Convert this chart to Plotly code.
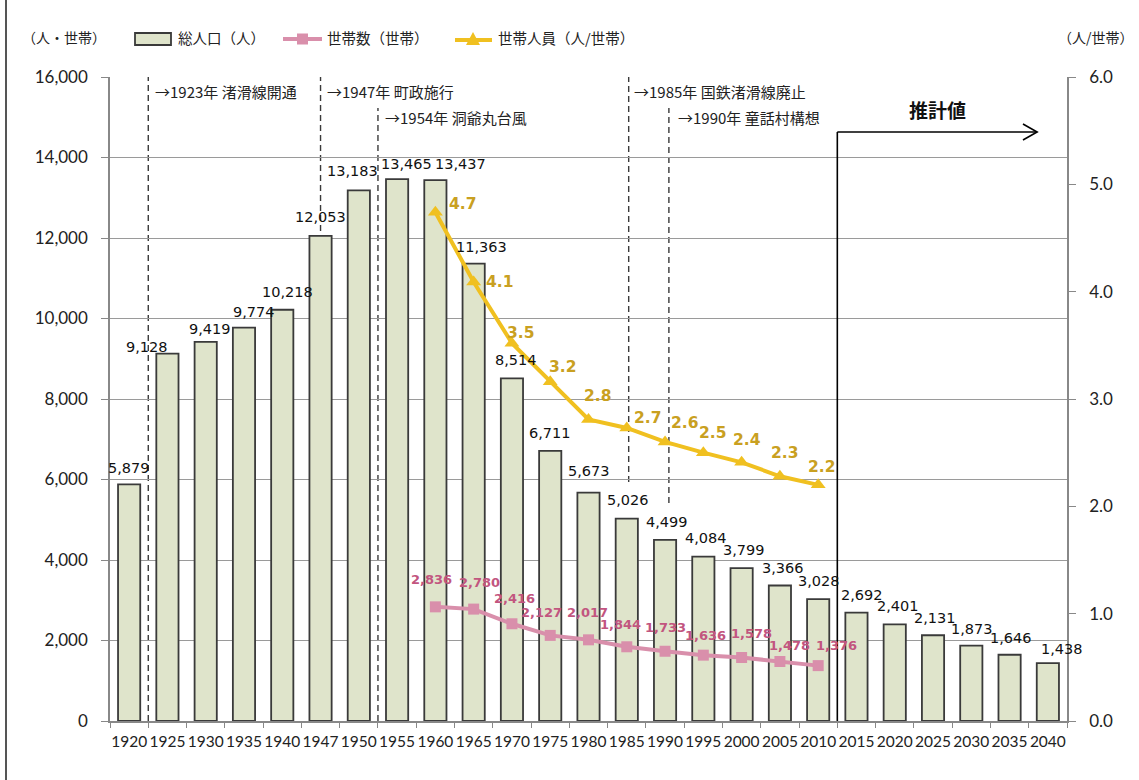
import plotly.graph_objects as go

# ---------------- data ----------------
years = ["1920", "1925", "1930", "1935", "1940", "1947", "1950", "1955", "1960", "1965",
         "1970", "1975", "1980", "1985", "1990", "1995", "2000", "2005", "2010", "2015",
         "2020", "2025", "2030", "2035", "2040"]
population = [5879, 9128, 9419, 9774, 10218, 12053, 13183, 13465, 13437, 11363,
              8514, 6711, 5673, 5026, 4499, 4084, 3799, 3366, 3028, 2692,
              2401, 2131, 1873, 1646, 1438]

hh_years = ["1960", "1965", "1970", "1975", "1980", "1985", "1990", "1995", "2000", "2005", "2010"]
households = [2836, 2780, 2416, 2127, 2017, 1844, 1733, 1636, 1578, 1478, 1376]
persons_per_hh = [4.74, 4.09, 3.52, 3.16, 2.81, 2.73, 2.60, 2.50, 2.41, 2.28, 2.20]

event_texts = ["→1923年 渚滑線開通", "→1947年 町政施行", "→1954年 洞爺丸台風",
               "→1985年 国鉄渚滑線廃止", "→1990年 童話村構想"]

# ---------------- label offsets (px) ----------------
pop_dx = [0, -20, 4, 10, 5, 0, -6, 9, 25, 8, 4, 0, 0, 1, 2, 3, 2, 3, 1, 6, 3, 2, 1, 1, 14]
pop_dy = [16, 7, 13, 16, 18, 19, 19, 15, 16, 17, 18, 18, 22, 19, 18, 19, 18, 18, 18, 18, 18, 17, 17, 17, 14]
hh_dx = [-4, 6, 3, -9, -1, -6, 0, 2, 10, 10, 18]
hh_dy = [27, 27, 25, 23, 27, 22, 24, 20, 24, 16, 20]
pp_dx = [27, 26, 9, 12, 9, 21, 19, 9, 5, 5, 3]
pp_dy = [8, 0, 10, 15, 23, 10, 19, 20, 22, 23, 18]

# ---------------- layout geometry ----------------
W, H = 1139, 780
L, R, T, B = 110, 1067, 77, 721
def pxx(p):
    return (p - L) / (R - L)
def pxy(p):
    return (B - p) / (B - T)
def cat(yr):
    return years.index(yr)

BAR_FILL = "#dfe4cb"
BAR_LINE = "#3a3a3a"
PINK = "#d98fab"
PINK_TXT = "#c2557f"
GOLD = "#f0c020"
GOLD_TXT = "#c9a021"
GRID = "#9a9a9a"
CJK = "Noto Sans CJK JP"
NUM = "DejaVu Sans"
TICK = "Lato"

fig = go.Figure()
fig.add_trace(go.Bar(
    x=years, y=population, name="総人口(人)",
    marker=dict(color=BAR_FILL, line=dict(color=BAR_LINE, width=1.8)),
    showlegend=False, yaxis="y"))
fig.add_trace(go.Scatter(
    x=hh_years, y=households, name="世帯数(世帯)", mode="lines+markers",
    line=dict(color=PINK, width=4), marker=dict(symbol="square", size=11, color=PINK),
    showlegend=False, yaxis="y"))
fig.add_trace(go.Scatter(
    x=hh_years, y=persons_per_hh, name="世帯人員(人/世帯)", mode="lines+markers",
    line=dict(color=GOLD, width=4), marker=dict(symbol="triangle-up", size=13, color=GOLD),
    showlegend=False, yaxis="y2"))

ann = []
for i, (yr, v) in enumerate(zip(years, population)):
    ann.append(dict(x=cat(yr), y=v, xref="x", yref="y", text=f"{v:,}", showarrow=False,
                    xshift=pop_dx[i], yshift=pop_dy[i], yanchor="middle",
                    font=dict(family=NUM, size=14.5, color="#111")))
for i, (yr, v) in enumerate(zip(hh_years, households)):
    ann.append(dict(x=cat(yr), y=v, xref="x", yref="y", text=f"<b>{v:,}</b>", showarrow=False,
                    xshift=hh_dx[i], yshift=hh_dy[i], yanchor="middle",
                    font=dict(family=NUM, size=13, color=PINK_TXT)))
for i, (yr, v) in enumerate(zip(hh_years, persons_per_hh)):
    ann.append(dict(x=cat(yr), y=v, xref="x", yref="y2", text=f"<b>{v:.1f}</b>", showarrow=False,
                    xshift=pp_dx[i], yshift=pp_dy[i], yanchor="middle",
                    font=dict(family=NUM, size=15.5, color=GOLD_TXT)))

# event labels
event_pos = [(153, 92), (325, 92), (383, 117), (632, 92), (676, 117)]
for txt, (px, py) in zip(event_texts, event_pos):
    ann.append(dict(x=pxx(px), y=pxy(py), xref="paper", yref="paper", text=txt,
                    showarrow=False, xanchor="left", yanchor="middle",
                    font=dict(family=CJK, size=15, color="#222")))
ann.append(dict(x=pxx(937), y=pxy(110), xref="paper", yref="paper", text="<b>推計値</b>",
                showarrow=False, xanchor="center", yanchor="middle",
                font=dict(family=CJK, size=19, color="#111")))

# axis titles & legend texts
ann.append(dict(x=pxx(20), y=pxy(37), xref="paper", yref="paper", text="（人・世帯）",
                showarrow=False, xanchor="left", yanchor="middle",
                font=dict(family=CJK, size=14, color="#222")))
ann.append(dict(x=pxx(1136), y=pxy(37), xref="paper", yref="paper", text="（人/世帯）",
                showarrow=False, xanchor="right", yanchor="middle",
                font=dict(family=CJK, size=14, color="#222")))
legend_items = [("総人口(人)", 176), ("世帯数(世帯)", 325), ("世帯人員(人/世帯)", 496)]
for txt, px in legend_items:
    ann.append(dict(x=pxx(px), y=pxy(37), xref="paper", yref="paper", text=txt.replace("(", "（").replace(")", "）"),
                    showarrow=False, xanchor="left", yanchor="middle",
                    font=dict(family=CJK, size=14.5, color="#222")))

shapes = []
# legend symbols
shapes.append(dict(type="rect", xref="paper", yref="paper", x0=pxx(135), x1=pxx(171),
                   y0=pxy(45), y1=pxy(33), fillcolor=BAR_FILL, line=dict(color=BAR_LINE, width=1.8)))
shapes.append(dict(type="line", xref="paper", yref="paper", x0=pxx(283), x1=pxx(322),
                   y0=pxy(39), y1=pxy(39), line=dict(color=PINK, width=4)))
shapes.append(dict(type="rect", xref="paper", yref="paper", x0=pxx(297), x1=pxx(308),
                   y0=pxy(44.5), y1=pxy(33.5), fillcolor=PINK, line=dict(width=0)))
shapes.append(dict(type="line", xref="paper", yref="paper", x0=pxx(455), x1=pxx(492),
                   y0=pxy(40), y1=pxy(40), line=dict(color=GOLD, width=4)))
shapes.append(dict(type="path", xref="paper", yref="paper",
                   path=f"M {pxx(466)},{pxy(45)} L {pxx(480)},{pxy(45)} L {pxx(473)},{pxy(32)} Z",
                   fillcolor=GOLD, line=dict(width=0)))

# event dashed lines (x in category index units, y in paper)
event_x = [0.5, 5.0, 6.5, 13.05, 14.1]
event_y = [(0, 1), (0, 1), (0, pxy(108)), (pxy(482), 1), (pxy(503), pxy(108))]
for xe, (ya, yb) in zip(event_x, event_y):
    shapes.append(dict(type="line", xref="x", yref="paper", x0=xe, x1=xe, y0=ya, y1=yb,
                       layer="below", line=dict(color="#3a3a3a", width=1.4, dash="6px,4px")))

# projection marker
shapes.append(dict(type="line", xref="x", yref="paper", x0=18.5, x1=18.5, y0=0, y1=pxy(132),
                   line=dict(color="#000", width=1.6)))
shapes.append(dict(type="line", xref="x", yref="paper", x0=18.5, x1=23.72, y0=pxy(132), y1=pxy(132),
                   line=dict(color="#000", width=1.6)))
shapes.append(dict(type="path", xref="x", yref="paper",
                   path=f"M 23.35,{pxy(124)} L 23.72,{pxy(132)} L 23.35,{pxy(140)}",
                   line=dict(color="#000", width=1.6)))

# outer frame left edge
shapes.append(dict(type="line", xref="paper", yref="paper", x0=pxx(6), x1=pxx(6),
                   y0=pxy(0), y1=pxy(780), line=dict(color="#555", width=2)))

fig.update_layout(
    width=W, height=H,
    margin=dict(l=L, r=W - R, t=T, b=H - B, pad=0),
    paper_bgcolor="white", plot_bgcolor="white",
    bargap=0.42,
    xaxis=dict(type="category", categoryorder="array", categoryarray=years,
               range=[-0.5, len(years) - 0.5],
               tickson="boundaries", ticks="outside", ticklen=5, tickcolor="#888",
               showline=True, linecolor="#888", linewidth=1.5, showgrid=False,
               tickfont=dict(family=TICK, size=15.5, color="#222"), tickangle=0,
               ticklabelstandoff=6),
    yaxis=dict(range=[0, 16000], dtick=2000, tickformat=",", showgrid=True,
               gridcolor=GRID, gridwidth=1, zeroline=False,
               showline=True, linecolor="#888", linewidth=1.5,
               ticks="outside", ticklen=7, tickcolor="#888",
               tickfont=dict(family=TICK, size=17, color="#222"), ticklabelstandoff=10),
    yaxis2=dict(range=[0, 6], dtick=1, tickformat=".1f", overlaying="y", side="right",
                showgrid=False, zeroline=False, showline=True, linecolor="#888", linewidth=1.5,
                ticks="outside", ticklen=7, tickcolor="#888",
                tickfont=dict(family=TICK, size=17, color="#222"), ticklabelstandoff=10),
    annotations=ann, shapes=shapes, showlegend=False,
)

fig.write_html("out.html")
